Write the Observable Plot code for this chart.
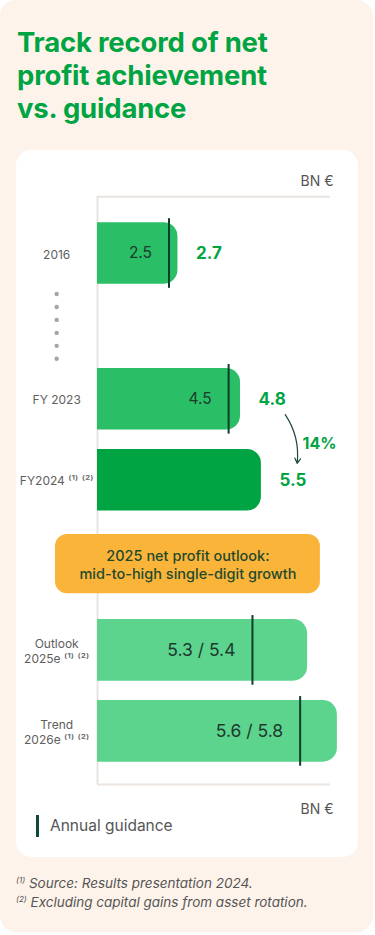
<!DOCTYPE html>
<html>
<head>
<meta charset="utf-8">
<script src="https://cdn.jsdelivr.net/npm/d3@7"></script>
<script src="https://cdn.jsdelivr.net/npm/@observablehq/plot@0.6"></script>
<style>
  body { margin: 0; background: #ffffff; font-family: Inter, "Noto Sans", sans-serif; }
  #page { position: relative; width: 375px; height: 935px; overflow: hidden; }
  #bg { position: absolute; left: 0; top: 0; width: 373px; height: 932px; background: #fdf3ea; border-radius: 16px; }
  h1 { position: absolute; left: 17px; top: 26px; margin: 0; font-size: 27.5px; line-height: 33px; font-weight: 700; color: #00a443; letter-spacing: -0.2px; }
  #card { position: absolute; left: 16px; top: 150px; width: 342px; height: 707px; background: #ffffff; border-radius: 15px; }
  #chart { position: absolute; left: 0; top: 172px; }
  #legend-line { position: absolute; left: 36px; top: 815px; width: 2.5px; height: 22px; background: #0e4a33; }
  #legend-text { position: absolute; left: 50px; top: 817px; font-size: 15.5px; line-height: 18px; color: #555; }
  #notes { position: absolute; left: 16px; top: 874px; font-size: 13.5px; line-height: 18.5px; color: #555; font-style: italic; }
  #notes sup { font-size: 8px; vertical-align: 5px; line-height: 0; }
</style>
</head>
<body>
<div id="page">
  <div id="bg"></div>
  <h1>Track record of net<br>profit achievement<br>vs. guidance</h1>
  <div id="card"></div>
  <div id="chart"></div>
  <div id="legend-line"></div>
  <div id="legend-text">Annual guidance</div>
  <div id="notes">
    <div><sup>(1)</sup> Source: Results presentation 2024.</div>
    <div><sup>(2)</sup> Excluding capital gains from asset rotation.</div>
  </div>
</div>
<script>
// ---- data ----
const categories = ["2016", "FY 2023", "FY2024 ⁽¹⁾ ⁽²⁾", "Outlook\n2025e ⁽¹⁾ ⁽²⁾", "Trend\n2026e ⁽¹⁾ ⁽²⁾"];
const rowPos = [0, 1.8, 2.8, 4.9, 5.9];              // vertical row positions (rows)
const barLength = [2.7, 4.8, 5.5, 7.05, 8.05];      // bar lengths (BN €, projections stylised)
const barTone = ["actual", "actual", "latest", "projection", "projection"];
const guidePos = [2.4, 4.4, null, 5.2, 6.8];        // guidance marker positions
const guideLabel = ["2.5", "4.5", null, "5.3 / 5.4", "5.6 / 5.8"];
const resultLabel = ["2.7", "4.8", "5.5", null, null];
const dotRows = [0.5, 0.66, 0.82, 0.98, 1.14, 1.3];
const growthLabel = "14%";
const outlookText = "2025 net profit outlook:\nmid-to-high single-digit growth";
const unitLabel = "BN €";

const toneColor = { actual: "#2abf66", latest: "#00a443", projection: "#5cd48e" };

const rows = categories.map((c, i) => ({
  label: c, row: rowPos[i], len: barLength[i], tone: barTone[i],
  guide: guidePos[i], guideLabel: guideLabel[i], result: resultLabel[i]
}));
const hist = rows.filter(d => d.tone !== "projection");
const guided = rows.filter(d => d.guide != null);

const half = 0.38;
const labelX = -1.37;
const axisTop = -0.7, axisBottom = 6.555, axisRight = 7.82;

const growth = [{
  x1: barLength[1] + 1.5, y1: rowPos[1] + 0.19,
  x2: barLength[2] + 1.2, y2: rowPos[2] - 0.21
}];

const chart = Plot.plot({
  width: 375,
  height: 648,
  marginLeft: 97,
  marginRight: 20,
  marginTop: 0,
  marginBottom: 0,
  x: { type: "linear", domain: [0, 8.5], range: [97, 97 + 8.5 * 29.8], axis: null },
  y: { type: "linear", domain: [-1, 7], range: [0, 648], axis: null },
  color: { type: "identity" },
  style: { fontFamily: "Inter, 'Noto Sans', sans-serif", background: "transparent", overflow: "visible" },
  marks: [
    // frame lines
    Plot.ruleY([axisTop, axisBottom], { x1: 0, x2: axisRight, stroke: "#e9e4df", strokeWidth: 2 }),
    Plot.ruleX([0], { y1: axisTop, y2: axisBottom, stroke: "#e9e4df", strokeWidth: 2 }),
    // bars (square at the axis, rounded at the end)
    Plot.rect(rows, {
      x1: -0.6, x2: "len", y1: d => d.row - half, y2: d => d.row + half,
      fill: d => toneColor[d.tone], rx: 14, clip: true
    }),
    // guidance markers
    Plot.ruleX(guided, { x: "guide", y1: d => d.row - 0.43, y2: d => d.row + 0.43, stroke: "#0d3d2b", strokeWidth: 2 }),
    // guidance labels inside bars
    Plot.text(guided.filter(d => d.tone !== "projection"), {
      x: "guide", y: "row", text: "guideLabel", textAnchor: "end", dx: -17,
      fontSize: 15.5, fill: "#1c3a2d"
    }),
    Plot.text(guided.filter(d => d.tone === "projection"), {
      x: "guide", y: "row", text: "guideLabel", textAnchor: "end", dx: -17,
      fontSize: 17.5, fill: "#1c3a2d"
    }),
    // results
    Plot.text(hist, {
      x: "len", y: "row", text: "result", textAnchor: "start", dx: 18,
      fontSize: 17, fontWeight: 700, fill: "#00a443"
    }),
    // category labels
    Plot.text(rows, {
      x: labelX, y: "row", text: "label", textAnchor: "middle",
      fontSize: 12, lineHeight: 1.3, fill: "#5e5e5e"
    }),
    // ellipsis dots
    Plot.dot(dotRows, { x: labelX, y: d => d, r: 2.2, fill: "#aba49e", stroke: null }),
    // growth arrow
    Plot.arrow(growth, {
      x1: "x1", y1: "y1", x2: "x2", y2: "y2", bend: 20,
      stroke: "#1d4636", strokeWidth: 1.2, headLength: 7
    }),
    Plot.text([growthLabel], {
      x: barLength[2] + 1.38, y: (rowPos[1] + rowPos[2]) / 2 + 0.05, text: d => d,
      textAnchor: "start", fontSize: 16, fontWeight: 700, fill: "#00a443"
    }),
    // outlook callout
    Plot.rect([outlookText], { x1: -1.41, x2: 7.48, y1: 3.47, y2: 4.2, fill: "#fbb43a", rx: 12 }),
    Plot.text([outlookText], {
      x: (-1.41 + 7.48) / 2, y: 3.835, text: d => d, textAnchor: "middle",
      fontSize: 14.5, fontWeight: 500, lineHeight: 1.25, fill: "#1e4a2c"
    }),
    // unit labels
    Plot.text([unitLabel, unitLabel], {
      x: 7.92, y: (d, i) => (i === 0 ? -0.89 : 6.86), text: d => d,
      textAnchor: "end", fontSize: 14, fill: "#555"
    })
  ]
});
document.getElementById("chart").appendChild(chart);
</script>
</body>
</html>
